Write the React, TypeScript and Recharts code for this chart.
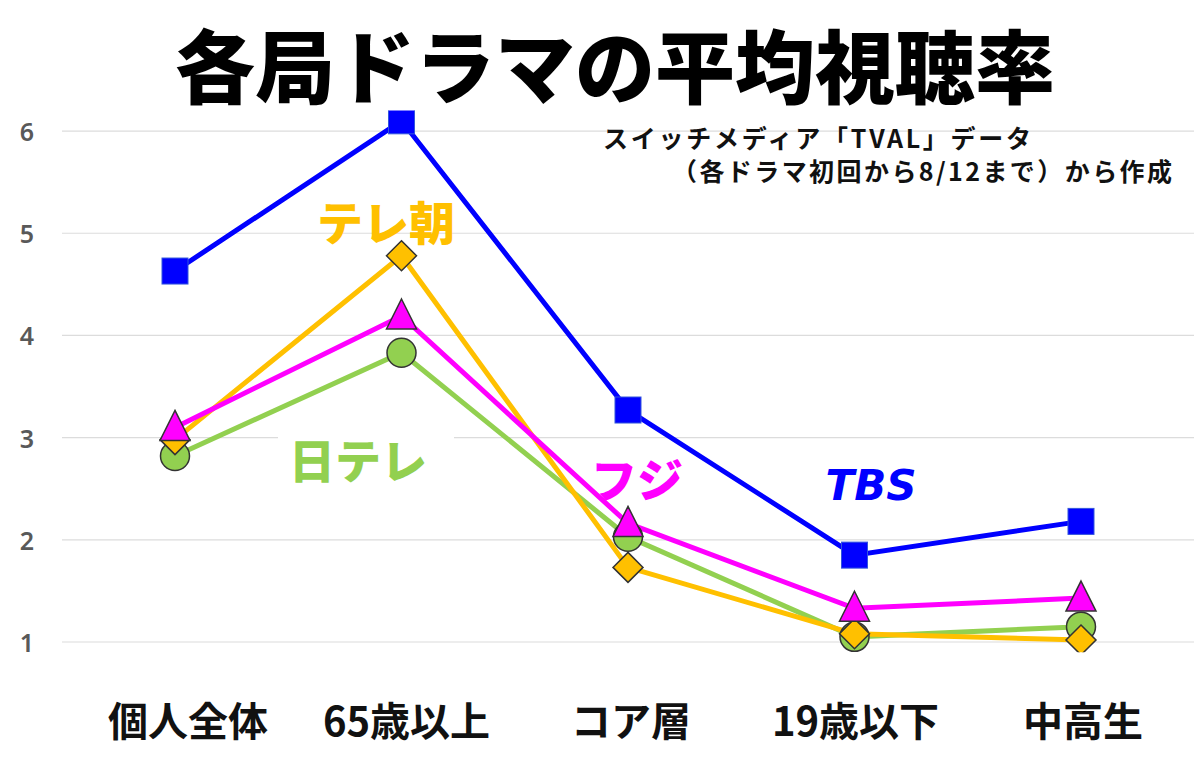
import React from 'react';
import { LineChart, Line, XAxis, YAxis, CartesianGrid } from 'recharts';

const categories = ['個人全体', '65歳以上', 'コア層', '19歳以下', '中高生'];
const tbs = [4.63, 6.1, 3.27, 1.85, 2.18];
const tvAsahi = [2.98, 4.78, 1.73, 1.08, 1.02];
const fuji = [3.1, 4.19, 2.16, 1.33, 1.43];
const ntv = [2.82, 3.83, 2.03, 1.05, 1.15];
const yTicks = [1, 2, 3, 4, 5, 6];

const data = categories.map((name, i) => ({
  name,
  tbs: tbs[i],
  tvAsahi: tvAsahi[i],
  fuji: fuji[i],
  ntv: ntv[i],
}));

const JP = '"Noto Sans CJK JP", "Noto Sans", sans-serif';

const SquareDot = (p: any) => (
  <rect key={p.index} x={p.cx - 13} y={p.cy - 13} width={26} height={26} fill="#0000FF" stroke="#3355dd" strokeWidth={1} />
);
const DiamondDot = (p: any) => (
  <polygon
    key={p.index}
    points={`${p.cx},${p.cy - 15} ${p.cx + 15},${p.cy} ${p.cx},${p.cy + 15} ${p.cx - 15},${p.cy}`}
    fill="#FFC000"
    stroke="#333"
    strokeWidth={1.5}
  />
);
const TriangleDot = (p: any) => (
  <polygon
    key={p.index}
    points={`${p.cx},${p.cy - 17} ${p.cx + 15},${p.cy + 13} ${p.cx - 15},${p.cy + 13}`}
    fill="#FF00FF"
    stroke="#333"
    strokeWidth={1.5}
  />
);
const CircleDot = (p: any) => (
  <circle key={p.index} cx={p.cx} cy={p.cy} r={14.5} fill="#92D050" stroke="#333" strokeWidth={1.5} />
);

// the category labels sit a little right of their points in the original
const labelShift = [13, 5, 3, 1, 2];

const XTick = (p: any) => (
  <text x={p.x + (labelShift[p.index] || 0)} y={719} textAnchor="middle" dominantBaseline="central" fontFamily={JP} fontWeight={700} fontSize={40} fill="#111">
    {p.payload.value}
  </text>
);
const YTick = (p: any) => (
  <text x={27} y={p.y} textAnchor="middle" dominantBaseline="central" fontFamily='"Noto Sans", sans-serif' fontWeight={600} fontSize={25} fill="#595959">
    {p.payload.value}
  </text>
);

export default function App() {
  return (
    <div style={{ position: 'absolute', left: 0, top: 0, width: 1200, height: 758, background: '#fff' }}>
      <LineChart width={1200} height={758} data={data} margin={{ top: 110.6, right: 6, bottom: 15.8, left: 0 }}>
        <CartesianGrid horizontal vertical={false} horizontalValues={yTicks} stroke="#dcdcdc" strokeWidth={1.2} />
        <XAxis dataKey="name" axisLine={false} tickLine={false} height={90} padding={{ left: 113, right: 113 }} tick={<XTick />} interval={0} />
        <YAxis domain={[0.9, 6.2]} ticks={yTicks} axisLine={false} tickLine={false} width={62} tick={<YTick />} allowDataOverflow />
        <Line dataKey="ntv" stroke="#92D050" strokeWidth={5} dot={CircleDot} isAnimationActive={false} />
        <Line dataKey="tvAsahi" stroke="#FFC000" strokeWidth={5} dot={DiamondDot} isAnimationActive={false} />
        <Line dataKey="fuji" stroke="#FF00FF" strokeWidth={5} dot={TriangleDot} isAnimationActive={false} />
        <Line dataKey="tbs" stroke="#0000FF" strokeWidth={5} dot={SquareDot} isAnimationActive={false} />
      </LineChart>
      <svg width={1200} height={758} style={{ position: 'absolute', left: 0, top: 0, pointerEvents: 'none' }}>
        <text x={615} y={62} textAnchor="middle" dominantBaseline="central" fontFamily={JP} fontWeight={900} fontSize={80} fill="#000">
          各局ドラマの平均視聴率
        </text>
        <text x={603} y={137} dominantBaseline="central" fontFamily={JP} fontWeight={600} fontSize={25} fill="#111" textLength={428} lengthAdjust="spacing">
          スイッチメディア「TVAL」データ
        </text>
        <text x={672} y={170} dominantBaseline="central" fontFamily={JP} fontWeight={600} fontSize={25} fill="#111" textLength={500} lengthAdjust="spacing">
          （各ドラマ初回から8/12まで）から作成
        </text>
        <text x={386} y={220} textAnchor="middle" dominantBaseline="central" fontFamily={JP} fontWeight={900} fontSize={46} fill="#FFC000">
          テレ朝
        </text>
        <rect x={278} y={428} width={176} height={58} fill="#fff" />
        <text x={358} y={458} textAnchor="middle" dominantBaseline="central" fontFamily={JP} fontWeight={900} fontSize={46} fill="#92D050">
          日テレ
        </text>
        <text x={637} y={477} textAnchor="middle" dominantBaseline="central" fontFamily={JP} fontWeight={900} fontSize={46} fill="#FF00FF">
          フジ
        </text>
        <text x={871} y={485} textAnchor="middle" dominantBaseline="central" fontFamily='"DejaVu Sans", sans-serif' fontWeight={700} fontStyle="italic" fontSize={42} fill="#0000FF">
          TBS
        </text>
      </svg>
    </div>
  );
}
